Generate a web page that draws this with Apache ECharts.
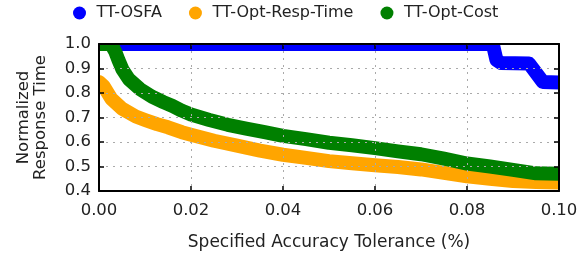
<!DOCTYPE html>
<html>
<head>
<meta charset="utf-8">
<script src="https://cdn.jsdelivr.net/npm/echarts@6/dist/echarts.min.js"></script>
<style>html,body{margin:0;padding:0;background:#fff}#c{width:584px;height:256px}</style>
</head>
<body>
<div id="c"></div>
<script>
const seriesNames = ['TT-OSFA', 'TT-Opt-Resp-Time', 'TT-Opt-Cost'];
const osfaX = [0, 0.0856, 0.0864, 0.0874, 0.0935, 0.0965, 0.1];
const osfaY = [1.0, 1.0, 0.935, 0.922, 0.92, 0.845, 0.843];
const respX = [0, 0.001, 0.0027, 0.005, 0.008, 0.010, 0.0126, 0.015, 0.018, 0.020, 0.025, 0.030, 0.035, 0.040, 0.045, 0.050, 0.055, 0.060, 0.065, 0.070, 0.075, 0.080, 0.085, 0.090, 0.095, 0.100];
const respY = [0.845, 0.828, 0.776, 0.736, 0.704, 0.69, 0.673, 0.66, 0.64, 0.63, 0.605, 0.585, 0.565, 0.548, 0.535, 0.522, 0.513, 0.505, 0.498, 0.488, 0.474, 0.46, 0.45, 0.441, 0.437, 0.435];
const costX = [0, 0.0026, 0.0035, 0.0042, 0.0051, 0.0065, 0.0089, 0.0115, 0.014, 0.016, 0.018, 0.020, 0.024, 0.028, 0.032, 0.036, 0.040, 0.045, 0.050, 0.055, 0.060, 0.065, 0.070, 0.075, 0.080, 0.085, 0.090, 0.095, 0.100];
const costY = [1.0, 1.0, 0.97, 0.936, 0.896, 0.856, 0.816, 0.785, 0.763, 0.747, 0.728, 0.712, 0.69, 0.67, 0.655, 0.64, 0.625, 0.612, 0.597, 0.587, 0.575, 0.562, 0.55, 0.532, 0.512, 0.50, 0.486, 0.472, 0.47];
const colors = ['#0000ff', '#ffa500', '#008000'];
const xTicks = { min: 0, max: 0.1, interval: 0.02 };
const yTicks = { min: 0.4, max: 1.0, interval: 0.1 };

const zip = (xs, ys) => xs.map((x, i) => [x, ys[i]]);
const font = 'DejaVu Sans';
const frameLine = { show: true, onZero: false, lineStyle: { color: '#000', width: 2 } };
const tick = { show: true, inside: true, length: 5, lineStyle: { color: '#000', width: 1.5 } };
const grid = { show: true, lineStyle: { color: '#aaa', type: [2, 5], width: 1 } };

function band(name, data, color) {
  return {
    name, type: 'line', data, showSymbol: false, symbol: 'circle', clip: true,
    lineStyle: { color, width: 14, cap: 'round', join: 'round' },
    itemStyle: { color }, animation: false
  };
}

const chart = echarts.init(document.getElementById('c'));
chart.setOption({
  animation: false,
  color: colors,
  textStyle: { fontFamily: font },
  legend: {
    top: 0, left: 68, itemGap: 27, itemWidth: 24, itemHeight: 13, icon: 'circle',
    textStyle: { fontFamily: font, fontSize: 16, color: '#222' },
    data: seriesNames
  },
  grid: { left: 99, right: 25, top: 44, bottom: 62 },
  xAxis: [{
    type: 'value', z: 10, min: xTicks.min, max: xTicks.max, interval: xTicks.interval,
    name: 'Specified Accuracy Tolerance (%)', nameLocation: 'middle', nameGap: 43,
    nameTextStyle: { fontFamily: font, fontSize: 17, color: '#222' },
    axisLine: frameLine, axisTick: tick, splitLine: grid,
    axisLabel: { fontFamily: font, fontSize: 16.5, color: '#222', margin: 11, formatter: v => v.toFixed(2) }
  }, {
    type: 'value', z: 10, position: 'top', min: xTicks.min, max: xTicks.max, interval: xTicks.interval,
    axisLine: frameLine, axisTick: tick, splitLine: { show: false }, axisLabel: { show: false }
  }],
  yAxis: [{
    type: 'value', z: 10, min: yTicks.min, max: yTicks.max, interval: yTicks.interval,
    name: 'Normalized\nResponse Time', nameLocation: 'middle', nameGap: 50,
    nameTextStyle: { fontFamily: font, fontSize: 16.5, color: '#222', lineHeight: 17 },
    axisLine: frameLine, axisTick: tick, splitLine: grid,
    axisLabel: { fontFamily: font, fontSize: 16.5, color: '#222', margin: 8, formatter: v => v.toFixed(1) }
  }, {
    type: 'value', z: 10, position: 'right', min: yTicks.min, max: yTicks.max, interval: yTicks.interval,
    axisLine: frameLine, axisTick: tick, splitLine: { show: false }, axisLabel: { show: false }
  }],
  series: [
    band(seriesNames[0], zip(osfaX, osfaY), colors[0]),
    band(seriesNames[1], zip(respX, respY), colors[1]),
    band(seriesNames[2], zip(costX, costY), colors[2])
  ]
});

// white masks outside the plot area so the thick bands are cut at the frame
const bl = chart.convertToPixel({ gridIndex: 0 }, [xTicks.min, yTicks.min]);
const tr = chart.convertToPixel({ gridIndex: 0 }, [xTicks.max, yTicks.max]);
const pad = 12;
const mask = (x, y, w, h) => ({ type: 'rect', z: 5, silent: true, shape: { x, y, width: w, height: h }, style: { fill: '#fff' } });
chart.setOption({
  graphic: [
    mask(bl[0] - 8, tr[1] - pad, tr[0] - bl[0] + 8 + pad, pad),
    mask(tr[0], tr[1] - pad, pad, bl[1] - tr[1] + 2 * pad),
    mask(bl[0] - 8, tr[1] - pad, 8, bl[1] - tr[1] + pad + 8),
    mask(bl[0] - 8, bl[1], tr[0] - bl[0] + 8 + pad, 8)
  ]
});
</script>
</body>
</html>
